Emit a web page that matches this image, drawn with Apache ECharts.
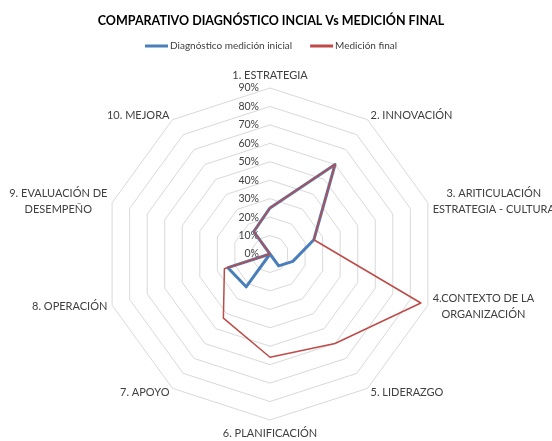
<!DOCTYPE html>
<html>
<head>
<meta charset="utf-8">
<script src="https://cdn.jsdelivr.net/npm/echarts@6/dist/echarts.min.js"></script>
<style>html,body{margin:0;padding:0;background:#fff}#c{width:552px;height:441px}</style>
</head>
<body>
<div id="c"></div>
<script>
var categories = ['1. ESTRATEGIA', '2. INNOVACIÓN', '3. ARITICULACIÓN\nESTRATEGIA - CULTURA', '4.CONTEXTO DE LA\nORGANIZACIÓN', '5. LIDERAZGO', '6. PLANIFICACIÓN', '7. APOYO', '8. OPERACIÓN', '9. EVALUACIÓN DE\nDESEMPEÑO', '10. MEJORA'];
var seriesNames = ['Diagnóstico medición inicial', 'Medición final'];
var inicial = [25, 60, 25, 13, 8, 0, 22, 24, 0, 15];
var final = [25, 60, 25, 86, 60, 56, 43, 26, 0, 15];
var axisMax = 90;
var axisStep = 10;

// ECharts lays indicators counter-clockwise; reorder so they run clockwise from the top
var order = [0];
for (var i = categories.length - 1; i >= 1; i--) order.push(i);
function reorder(arr) { return order.map(function (k) { return arr[k]; }); }

var FONT = 'Lato, "Open Sans", sans-serif';
var indicators = reorder(categories).map(function (n, idx) {
  var ind = { name: n, min: 0, max: axisMax };
  if (idx === 0) {
    ind.axisLabel = { show: true, formatter: '{value}%', color: '#404040', fontSize: 10.5, fontFamily: FONT, align: 'right', margin: 11 };
  }
  return ind;
});

var chart = echarts.init(document.getElementById('c'), null, { renderer: 'canvas' });
chart.setOption({
  animation: false,
  backgroundColor: '#ffffff',
  title: {
    text: 'COMPARATIVO DIAGNÓSTICO INCIAL Vs MEDICIÓN FINAL',
    left: 266, top: 9, textAlign: 'center',
    textStyle: { fontFamily: FONT, fontSize: 12.5, fontWeight: 'bold', color: '#000000' }
  },
  legend: {
    top: 36, left: 140,
    itemWidth: 23, itemHeight: 3, itemGap: 18,
    icon: 'rect',
    textStyle: { fontFamily: FONT, fontSize: 10, color: '#404040', padding: [0, 0, 0, -3] },
    data: [
      { name: seriesNames[0] },
      { name: seriesNames[1], itemStyle: { color: '#be4b48' } }
    ]
  },
  radar: {
    center: [270, 254],
    radius: 166,
    startAngle: 90,
    splitNumber: axisMax / axisStep,
    shape: 'polygon',
    nameGap: 5,
    axisName: {
      color: '#404040', fontFamily: FONT, fontSize: 11,
      formatter: function (name) {
        return name.split('\n').map(function (s) { return '{c|' + s + '}'; }).join('\n');
      },
      rich: { c: { align: 'center', color: '#404040', fontFamily: FONT, fontSize: 11, lineHeight: 16 } }
    },
    splitLine: { lineStyle: { color: '#d9d9d9', width: 1 } },
    splitArea: { show: false },
    axisLine: { show: false },
    axisTick: { show: false },
    axisLabel: { show: false },
    indicator: indicators
  },
  series: [{
    type: 'radar',
    symbol: 'none',
    data: [
      { name: seriesNames[0], value: reorder(inicial), lineStyle: { color: '#4a7ebb', width: 3 }, itemStyle: { color: '#4a7ebb' } },
      { name: seriesNames[1], value: reorder(final), lineStyle: { color: '#be4b48', width: 1.5 }, itemStyle: { color: '#be4b48' } }
    ]
  }]
});
</script>
</body>
</html>
